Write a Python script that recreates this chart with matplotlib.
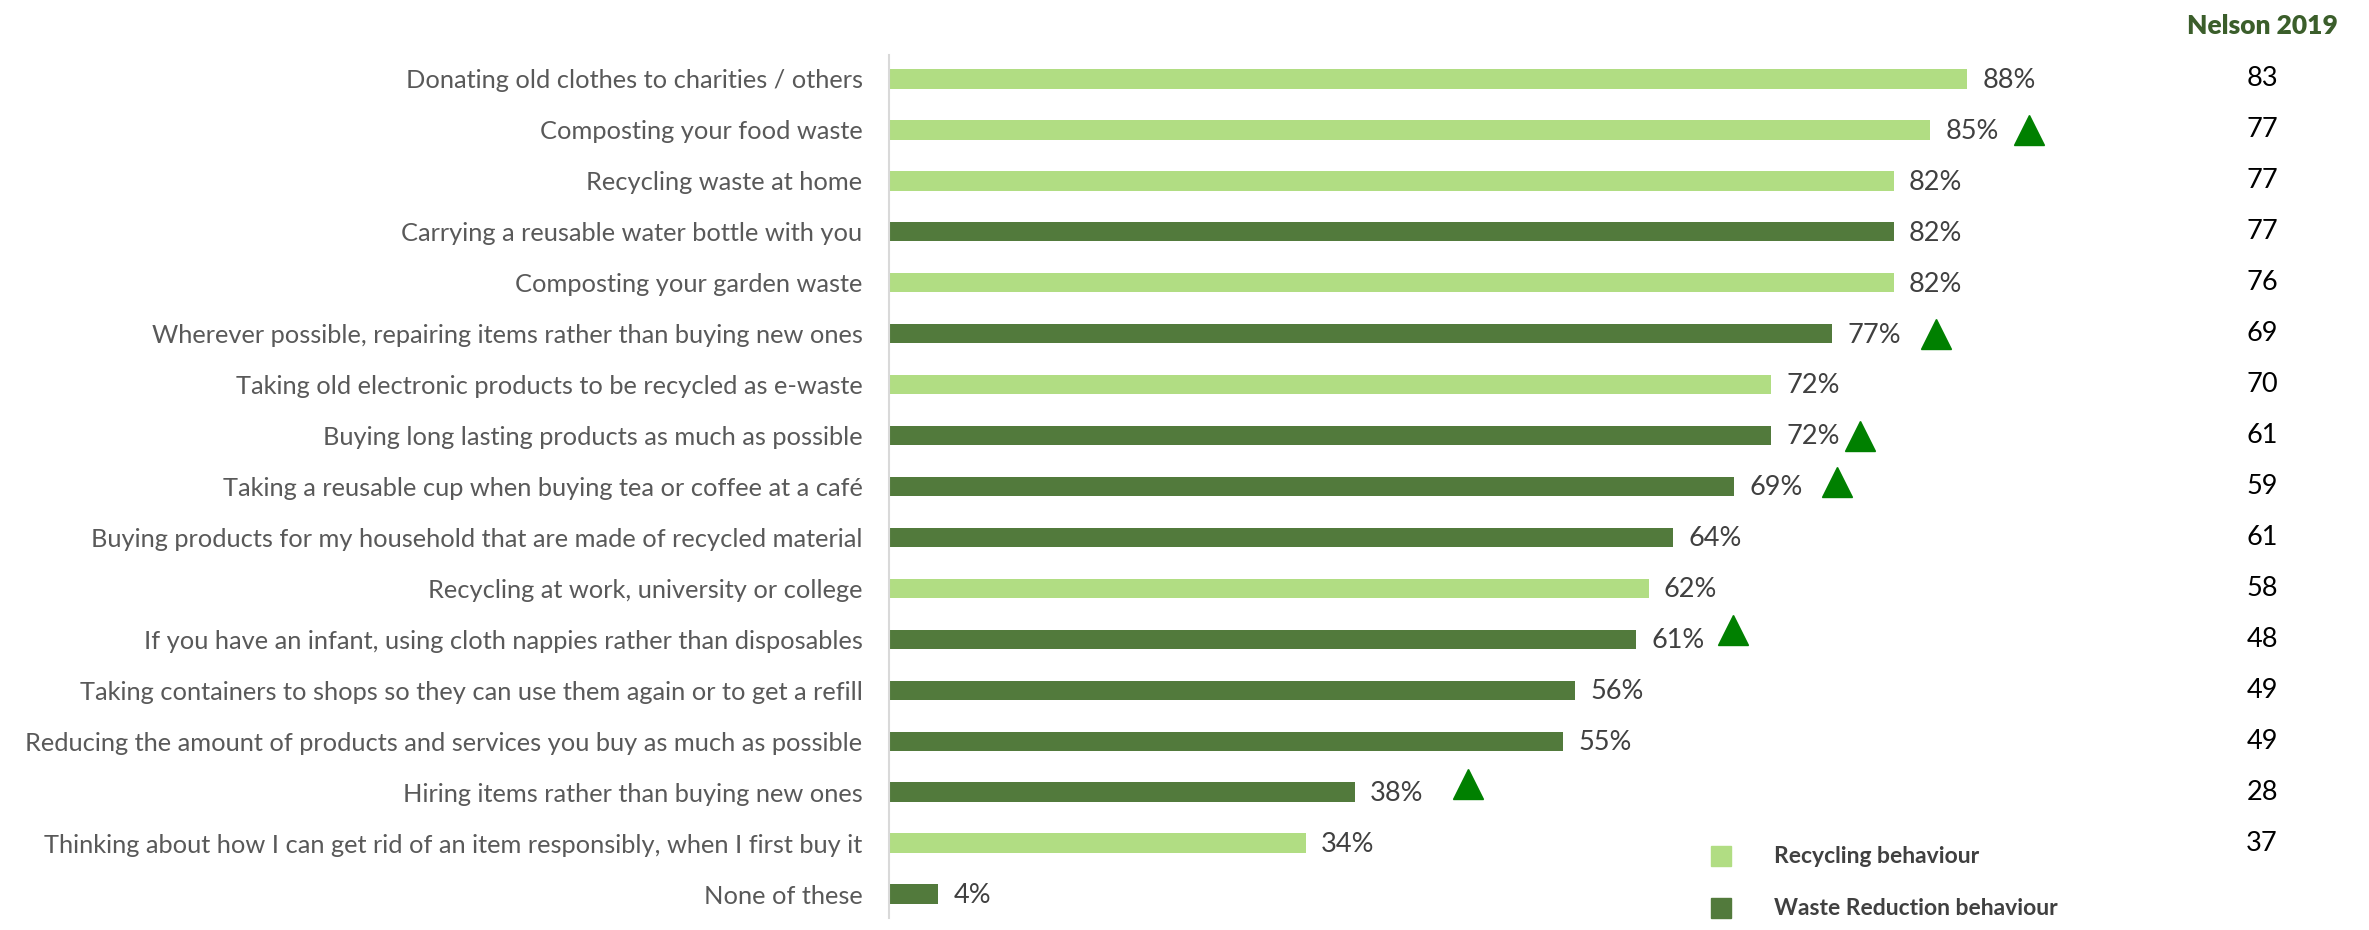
import matplotlib
matplotlib.use("Agg")
import matplotlib.pyplot as plt
from matplotlib.patches import Rectangle
from matplotlib.transforms import blended_transform_factory

categories = [
    "Donating old clothes to charities / others",
    "Composting your food waste",
    "Recycling waste at home",
    "Carrying a reusable water bottle with you",
    "Composting your garden waste",
    "Wherever possible, repairing items rather than buying new ones",
    "Taking old electronic products to be recycled as e-waste",
    "Buying long lasting products as much as possible",
    "Taking a reusable cup when buying tea or coffee at a café",
    "Buying products for my household that are made of recycled material",
    "Recycling at work, university or college",
    "If you have an infant, using cloth nappies rather than disposables",
    "Taking containers to shops so they can use them again or to get a refill",
    "Reducing the amount of products and services you buy as much as possible",
    "Hiring items rather than buying new ones",
    "Thinking about how I can get rid of an item responsibly, when I first buy it",
    "None of these",
]
values = [88, 85, 82, 82, 82, 77, 72, 72, 69, 64, 62, 61, 56, 55, 38, 34, 4]
behaviour = ["R", "R", "R", "W", "R", "W", "R", "W", "W", "W", "R", "W", "W", "W", "W", "R", "W"]
nelson_2019 = ["83", "77", "77", "77", "76", "69", "70", "61", "59", "61", "58", "48", "49", "49", "28", "37", ""]
# rows with a significant increase marker, and where the triangle sits (x in %, lift in rows)
up_rows = [1, 5, 7, 8, 11, 14]
up_x = [93.1, 85.5, 79.3, 77.4, 68.9, 47.3]
up_lift = [0.0, 0.0, 0.0, 0.08, 0.18, 0.16]

light = "#B1DD83"
dark = "#527A3C"
colors = {"R": light, "W": dark}

W, H = 2369, 930
fig = plt.figure(figsize=(W / 100, H / 100), dpi=100)
ax = fig.add_axes([889 / W, 12 / H, 1225 / W, (918 - 55) / H])

y = list(range(len(categories)))
ax.barh(y, values, height=0.38, color=[colors[b] for b in behaviour])
ax.set_ylim(len(categories) - 0.53, -0.47)
ax.set_xlim(0, 100)

for yi, v in zip(y, values):
    ax.annotate(f"{v}%", (v, yi), xytext=(11, -1), textcoords="offset points",
                va="center", ha="left", fontsize=19.5, color="#404040", family="Lato")

for r, xx, lift in zip(up_rows, up_x, up_lift):
    ax.plot(xx, r - lift, marker="^", ms=21, color="#008000", mec="#008000", clip_on=False)

ax.set_yticks(y)
ax.set_yticklabels(categories, fontsize=18.3, color="#595959", family="Lato")
ax.tick_params(axis="y", length=0, pad=19)
ax.set_xticks([])
for s in ["top", "right", "bottom"]:
    ax.spines[s].set_visible(False)
ax.spines["left"].set_color("#D9D9D9")
ax.spines["left"].set_linewidth(1.5)

# Nelson 2019 comparison column
fig.text(2262 / W, 1 - 26 / H, "Nelson 2019", ha="center", va="center",
         fontsize=19, fontweight="heavy", color="#3B5E2B", family="Lato")
col = blended_transform_factory(fig.transFigure, ax.transData)
for yi, n in zip(y, nelson_2019):
    ax.text(2262 / W, yi, n, transform=col,
            ha="center", va="center", fontsize=19.5, color="black", family="Lato")

# legend
for ly, label, c in [(856, "Recycling behaviour", light), (908, "Waste Reduction behaviour", dark)]:
    fig.add_artist(Rectangle((1711 / W, 1 - (ly + 10) / H), 20 / W, 20 / H,
                             transform=fig.transFigure, color=c))
    fig.text(1774 / W, 1 - ly / H, label, ha="left", va="center", fontsize=16.5,
             fontweight="bold", color="#404040", family="Lato")

fig.savefig("out.png", dpi=100, facecolor="white")
